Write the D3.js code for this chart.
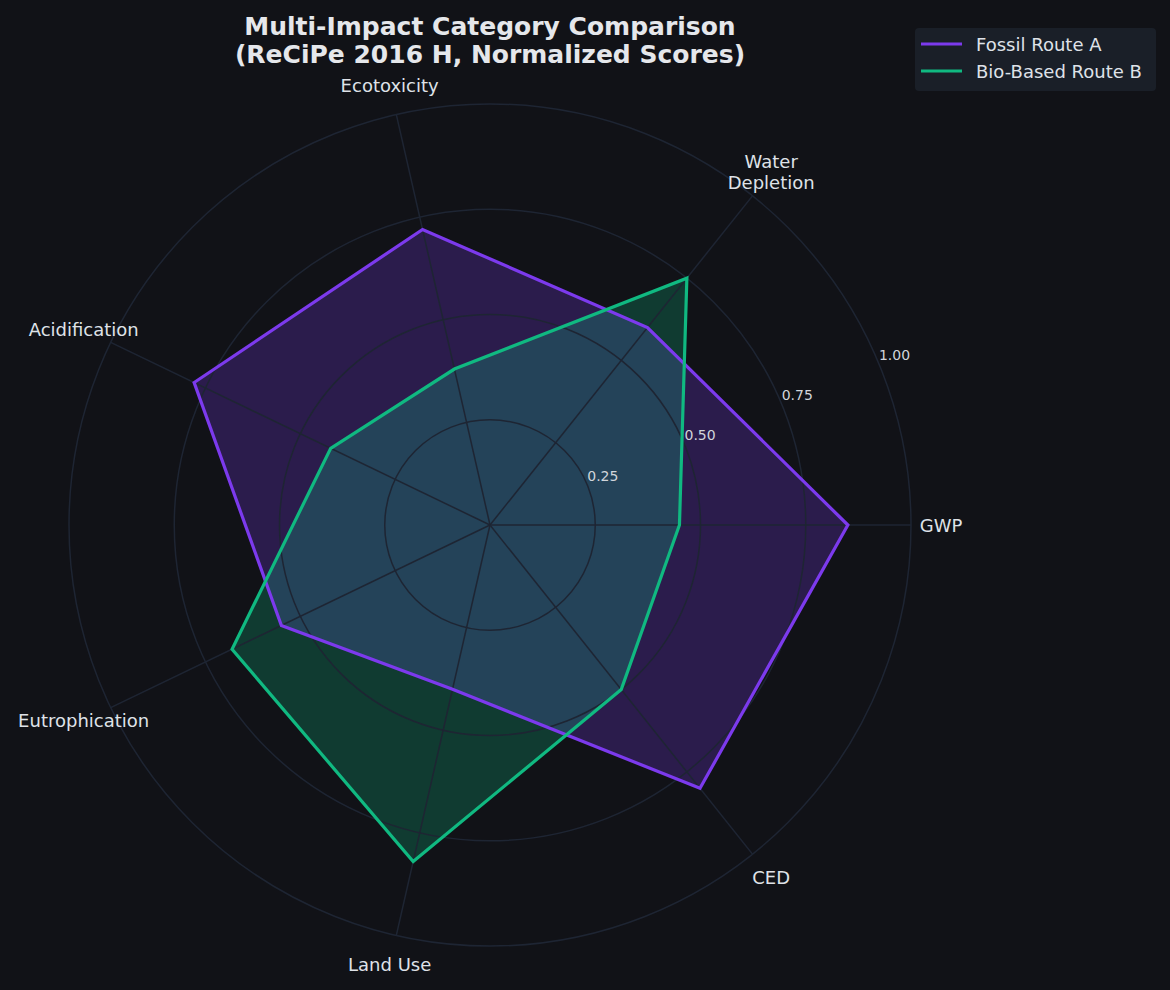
<!DOCTYPE html>
<html>
<head>
<meta charset="utf-8">
<script src="https://cdn.jsdelivr.net/npm/d3@7"></script>
<style>
  html, body { margin: 0; padding: 0; background: #111217; }
  svg { display: block; font-family: "DejaVu Sans", sans-serif; }
</style>
</head>
<body>
<svg id="radar" width="1170" height="990"></svg>
<script>
// chart data
var categories = ["GWP", "Water\nDepletion", "Ecotoxicity", "Acidification", "Eutrophication", "Land Use", "CED"];
var fossilRouteA = [0.85, 0.60, 0.72, 0.78, 0.55, 0.40, 0.80];
var bioRouteB = [0.45, 0.75, 0.38, 0.42, 0.68, 0.82, 0.50];
var radialTicks = [0.25, 0.50, 0.75, 1.00];
var seriesNames = ["Fossil Route A", "Bio-Based Route B"];

var series = [
  { name: seriesNames[0], values: fossilRouteA, color: "#7c3aed" },
  { name: seriesNames[1], values: bioRouteB, color: "#10b981" }
];

var svg = d3.select("#radar");
var cx = 490, cy = 525, radius = 421;

var rScale = d3.scaleLinear().domain([0, 1]).range([0, radius]);
// angle in d3 radial convention (clockwise from 12 o'clock); category 0 points east, going counterclockwise
var aScale = d3.scaleLinear().domain([0, categories.length]).range([Math.PI / 2, Math.PI / 2 - 2 * Math.PI]);

function px(i, r) { return cx + rScale(r) * Math.sin(aScale(i)); }
function py(i, r) { return cy - rScale(r) * Math.cos(aScale(i)); }

svg.append("rect").attr("width", 1170).attr("height", 990).attr("fill", "#111217");

var g = svg.append("g").attr("transform", "translate(" + cx + "," + cy + ")");

var radial = d3.lineRadial()
  .angle(function(d, i) { return aScale(i); })
  .radius(function(d) { return rScale(d); })
  .curve(d3.curveLinearClosed);

// fills
g.selectAll("path.fill")
  .data(series)
  .enter().append("path")
  .attr("class", "fill")
  .attr("d", function(d) { return radial(d.values); })
  .attr("fill", function(d) { return d.color; })
  .attr("fill-opacity", 0.25)
  .attr("stroke", "none");

// grid rings and spokes (drawn above fills like matplotlib)
var gridColor = "#1e2533";
g.selectAll("circle.ring")
  .data(radialTicks)
  .enter().append("circle")
  .attr("class", "ring")
  .attr("r", function(d) { return rScale(d); })
  .attr("fill", "none")
  .attr("stroke", gridColor)
  .attr("stroke-width", 1.5);

g.selectAll("line.spoke")
  .data(categories)
  .enter().append("line")
  .attr("class", "spoke")
  .attr("x1", 0).attr("y1", 0)
  .attr("x2", function(d, i) { return px(i, 1) - cx; })
  .attr("y2", function(d, i) { return py(i, 1) - cy; })
  .attr("stroke", gridColor)
  .attr("stroke-width", 1.5);

// outlines
g.selectAll("path.outline")
  .data(series)
  .enter().append("path")
  .attr("class", "outline")
  .attr("d", function(d) { return radial(d.values); })
  .attr("fill", "none")
  .attr("stroke", function(d) { return d.color; })
  .attr("stroke-width", 3.2)
  .attr("stroke-linejoin", "miter");

// radial tick labels at 22.5 degrees
var tickAngle = 22.5 * Math.PI / 180;
svg.selectAll("text.rtick")
  .data(radialTicks)
  .enter().append("text")
  .attr("class", "rtick")
  .attr("x", function(d) { return cx + rScale(d) * Math.cos(tickAngle); })
  .attr("y", function(d) { return cy - rScale(d) * Math.sin(tickAngle) - 4; })
  .attr("fill", "#d1d5db")
  .attr("font-size", 14)
  .text(function(d) { return d3.format(".2f")(d); });

// category labels
var labelR = 451 / radius;
var catLabels = svg.selectAll("text.cat")
  .data(categories)
  .enter().append("text")
  .attr("class", "cat")
  .attr("text-anchor", "middle")
  .attr("fill", "#dfe2e8")
  .attr("font-size", 18)
  .attr("transform", function(d, i) {
    return "translate(" + px(i, labelR) + "," + py(i, labelR) + ")";
  });

catLabels.each(function(d) {
  var lines = d.split("\n");
  var t = d3.select(this);
  var lh = 21;
  lines.forEach(function(line, k) {
    t.append("tspan")
      .attr("x", 0)
      .attr("y", (k - (lines.length - 1) / 2) * lh + 6.5)
      .text(line);
  });
});

// title
var title = svg.append("text")
  .attr("text-anchor", "middle")
  .attr("fill", "#e5e7eb")
  .attr("font-size", 25)
  .attr("font-weight", "bold");
title.append("tspan").attr("x", 490).attr("y", 35).text("Multi-Impact Category Comparison");
title.append("tspan").attr("x", 490).attr("y", 63).text("(ReCiPe 2016 H, Normalized Scores)");

// legend
var legend = svg.append("g").attr("transform", "translate(915,28)");
legend.append("rect")
  .attr("width", 241).attr("height", 63)
  .attr("rx", 4)
  .attr("fill", "#1a1f28");

var items = legend.selectAll("g.item")
  .data(series)
  .enter().append("g")
  .attr("class", "item")
  .attr("transform", function(d, i) { return "translate(0," + (16 + i * 27) + ")"; });

items.append("line")
  .attr("x1", 6).attr("x2", 47)
  .attr("y1", 0).attr("y2", 0)
  .attr("stroke", function(d) { return d.color; })
  .attr("stroke-width", 3.2);

items.append("text")
  .attr("x", 61)
  .attr("y", 6.5)
  .attr("fill", "#dfe2e8")
  .attr("font-size", 18)
  .text(function(d) { return d.name; });
</script>
</body>
</html>
